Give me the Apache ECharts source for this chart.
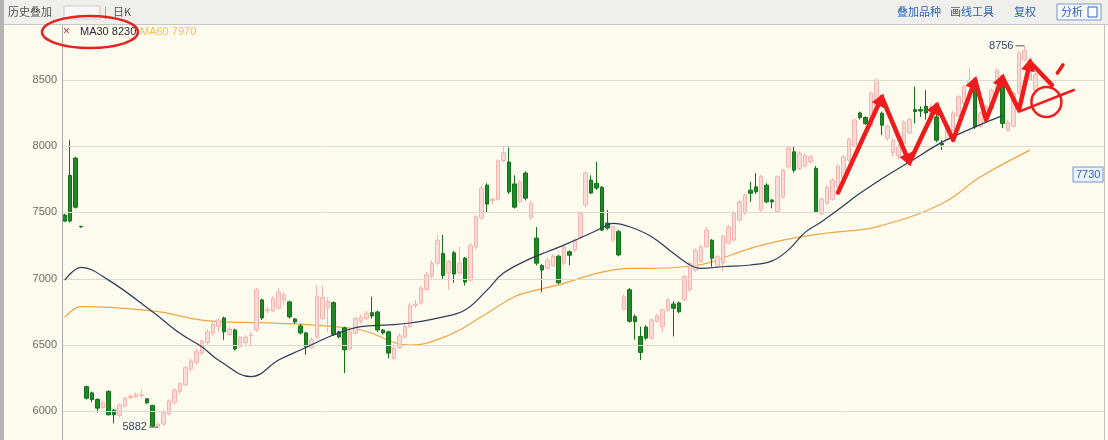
<!DOCTYPE html>
<html><head><meta charset="utf-8">
<script src="https://cdn.jsdelivr.net/npm/echarts/dist/echarts.min.js"></script>
<style>html,body{margin:0;padding:0;background:#fcfbee;}#c{width:1108px;height:440px;}</style>
</head><body><div id="c"></div>
<script>
// ---- data ----
const opens  = [7480,7780,7910,7395,6187,6140,6090,6030,6150,6010,5970,6040,6105,6110,6120,6095,6045,5885,5905,5980,
6070,6150,6200,6320,6370,6440,6520,6590,6640,6705,6580,6614,6490,6520,6570,6614,6841,6760,6760,6780,
6840,6826,6697,6645,6592,6480,6560,6700,6780,6820,6600,6630,6470,6590,6680,6700,6745,6750,6614,6600,
6400,6480,6560,6640,6800,6818,6920,7020,7118,7190,7045,7196,7044,7156,6990,7240,7460,7706,7590,7600,
7890,7880,7715,7580,7797,7460,7307,7100,7080,7100,7170,7118,7204,7217,7317,7556,7744,7720,7690,7420,
7292,7355,6770,6917,6715,6565,6636,6553,6680,6640,6765,6810,6818,6841,6917,7066,7130,7242,7290,7091,
7120,7270,7292,7443,7495,7668,7693,7520,7706,7594,7505,7618,7844,7957,7830,7850,7880,7832,7490,7570,
7600,7693,7760,7894,8000,8250,8216,8150,8300,8248,8060,7950,7930,8020,8100,8275,8275,8300,8200,8220,
8020,8050,8120,8230,8321,8450,8447,8150,8200,8280,8400,8447,8120,8150,8400,8650,8500,8420];
const closes = [7435,7435,7540,7392,6100,6090,6025,6065,5975,5975,6050,6100,6115,6130,6125,6065,5890,5905,5990,6080,
6160,6210,6330,6380,6450,6530,6600,6660,6690,6600,6620,6471,6560,6560,6575,6917,6705,6770,6850,6900,
6880,6713,6675,6592,6487,6540,6870,6860,6830,6580,6562,6465,6600,6700,6710,6740,6720,6615,6592,6440,
6480,6570,6640,6800,6810,6930,7030,7118,7291,7025,7130,7036,7118,6976,7250,7467,7683,7563,7600,7890,
7950,7655,7540,7730,7608,7570,7118,7066,7141,7171,6970,7242,7178,7292,7495,7797,7646,7685,7367,7382,
7392,7180,6865,6680,6677,6445,6553,6690,6720,6765,6841,6778,6752,7016,7118,7217,7240,7367,7155,7166,
7317,7392,7495,7580,7630,7645,7656,7770,7580,7580,7769,7819,7985,7819,7947,7930,7920,7505,7600,7690,
7744,7850,7920,8050,8196,8215,8171,8400,8497,8158,8150,8045,8000,8183,8200,8260,8265,8250,8300,8045,
8010,8150,8250,8372,8447,8497,8145,8248,8300,8420,8572,8171,8180,8400,8700,8720,8650,8540];
const lows   = [7430,7425,7530,7385,6090,6070,5990,6020,5970,5910,5950,6030,6090,6100,6100,6055,5885,5882,5890,5970,
6050,6130,6190,6300,6350,6420,6500,6570,6600,6540,6570,6460,6480,6500,6488,6600,6690,6740,6750,6770,
6800,6700,6660,6580,6426,6470,6550,6690,6600,6570,6550,6290,6460,6580,6660,6690,6700,6600,6580,6400,
6390,6470,6550,6630,6780,6810,6910,7000,7100,7000,6915,6970,7030,6950,6980,7220,7440,7495,7560,7590,
7880,7640,7530,7570,7590,7440,7100,6900,7070,7090,6960,7100,7103,7200,7300,7540,7640,7670,7360,7370,
7280,7170,6760,6670,6540,6388,6540,6540,6670,6600,6750,6565,6740,6830,6900,7050,7120,7230,7091,7080,
7060,7260,7280,7430,7480,7580,7640,7505,7570,7531,7495,7600,7830,7800,7820,7840,7870,7500,7480,7560,
7590,7680,7750,7880,7990,8200,8160,8140,8290,8083,8040,7920,7900,8010,8090,8171,8220,8200,8190,8030,
7970,8040,8110,8220,8310,8440,8130,8140,8190,8270,8390,8136,8110,8140,8390,8640,8490,8410];
const highs  = [7490,8045,7920,7400,6195,6150,6100,6080,6160,6020,6060,6110,6130,6140,6170,6100,6050,5915,6010,6090,
6175,6220,6345,6400,6470,6545,6620,6680,6700,6715,6640,6625,6570,6575,6600,6930,6850,6790,6870,6930,
6900,6835,6705,6660,6600,6560,6954,6950,6860,6830,6610,6640,6620,6713,6730,6760,6865,6760,6620,6610,
6500,6590,6660,6818,6840,6945,7050,7140,7330,7330,7140,7210,7242,7165,7270,7480,7700,7720,7610,7900,
8000,7990,7780,7745,7810,7590,7390,7110,7160,7185,7180,7255,7215,7305,7510,7810,7780,7882,7700,7518,
7400,7370,6880,6930,6730,6640,6650,6700,6735,6775,6855,6830,6830,7030,7130,7230,7255,7392,7300,7180,
7330,7405,7510,7595,7645,7731,7797,7785,7720,7600,7780,7830,8000,8000,7960,7945,7935,7850,7615,7705,
7760,7865,7935,8065,8210,8260,8225,8415,8510,8260,8165,8060,8015,8195,8215,8446,8300,8422,8315,8240,
8045,8165,8265,8385,8460,8593,8480,8260,8315,8435,8585,8470,8195,8415,8720,8756,8665,8555];
const ma30Points = [[0,6990],[3,7086],[8,6990],[16,6752],[21,6589],[25,6488],[28,6388],[34,6262],[39,6388],
[43,6463],[49,6576],[54,6639],[59,6652],[63,6667],[68,6704],[73,6765],[77,6915],[80,7043],[85,7154],[88,7204],
[91,7254],[96,7345],[99,7405],[100,7418],[103,7392],[107,7317],[111,7192],[114,7104],[116,7079],[120,7091],
[125,7104],[129,7135],[132,7220],[135,7350],[138,7430],[141,7520],[145,7644],[150,7781],[154,7880],[160,8030],
[166,8145],[171,8230]];
const ma60Points = [[0,6710],[3,6790],[8,6785],[17,6752],[23,6702],[28,6677],[36,6669],[45,6652],[54,6614],
[63,6500],[70,6575],[76,6714],[82,6865],[86,6915],[91,6966],[97,7041],[103,7079],[107,7079],[113,7091],
[117,7116],[125,7229],[131,7292],[139,7345],[148,7392],[160,7568],[167,7769],[176,7970]];
const gridValues = [6000,6500,7000,7500,8000,8500];
const highMark = [175, 8756];
const lowMark = [17, 5882];
const maText = ['MA30 8230', 'MA60 7970'];
const priceBoxText = '7730';
// hand-drawn annotation strokes, in [candle index, price]
const zigzag = [[141,7650],[149,8370],[154,7875],[159,8310],[162,8046],[166,8500],[168,8197],[171,8520],[174,8272],[176,8634],[180,8461]];
const headAt = [1,2,3,5,7,9];
const slotCount = 190;

// ---- build ----
const categories = [];
for (let i = 0; i < slotCount; i++) categories.push(String(i));
const candleData = opens.map((o, i) => [o, closes[i], lows[i], highs[i]]);

const chart = echarts.init(document.getElementById('c'), null, {renderer: 'canvas'});
const option = {
  animation: false,
  backgroundColor: '#fcfbee',
  grid: {left: 62, right: 4, top: 40, height: 398},
  xAxis: {type: 'category', data: categories, boundaryGap: true,
    axisLine: {show: false}, axisTick: {show: false}, axisLabel: {show: false}, splitLine: {show: false}},
  yAxis: {type: 'value', min: 5800, max: 8800, interval: 100,
    axisLine: {show: false}, axisTick: {show: false}, splitLine: {show: false},
    axisLabel: {color: '#6a6a6a', fontSize: 11, margin: 5, fontFamily: 'Liberation Sans',
      formatter: v => (v % 500 === 0 && v >= 6000 && v <= 8500) ? String(v) : ''}},
  series: [
    {type: 'line', data: [], silent: true, z: 1,
      markLine: {silent: true, symbol: 'none', label: {show: false}, animation: false,
        lineStyle: {color: '#dcdad0', width: 1, type: 'solid'},
        data: gridValues.map(v => ({yAxis: v}))}},
    {type: 'line', data: ma60Points, smooth: 0.4, showSymbol: false, silent: true, z: 3,
      lineStyle: {color: '#f2a545', width: 1.2}},
    {type: 'candlestick', data: candleData, barWidth: 4, z: 4, silent: true,
      itemStyle: {color: '#fcdad6', color0: '#1e8a26', borderColor: '#f5b3ad', borderColor0: '#127018', borderWidth: 1}},
    {type: 'line', data: ma30Points, smooth: 0.4, showSymbol: false, silent: true, z: 5,
      lineStyle: {color: '#2d3a5e', width: 1.2}}
  ]
};
chart.setOption(option);

const px = p => chart.convertToPixel({xAxisIndex: 0, yAxisIndex: 0}, p);
const RED = '#ee1c1c';
const g = [];
// window chrome
g.push({type: 'rect', shape: {x: 0, y: 0, width: 1108, height: 24}, style: {fill: '#efefec'}, z: 10});
g.push({type: 'line', shape: {x1: 0, y1: 24.5, x2: 1108, y2: 24.5}, style: {stroke: '#c6c6c6', lineWidth: 1}, z: 10});
g.push({type: 'rect', shape: {x: 0, y: 0, width: 4, height: 440}, style: {fill: '#b4b4b4'}, z: 10});
g.push({type: 'line', shape: {x1: 62.5, y1: 25, x2: 62.5, y2: 440}, style: {stroke: '#a8a8a8', lineWidth: 1}, z: 10});
g.push({type: 'line', shape: {x1: 1104.5, y1: 25, x2: 1104.5, y2: 440}, style: {stroke: '#c0c0c0', lineWidth: 1}, z: 10});
const tb = (x, t, c, fs) => ({type: 'text', x: x, y: 12, style: {text: t, fill: c, font: (fs || 11) + 'px "Noto Sans CJK SC"', textVerticalAlign: 'middle'}, z: 11});
g.push(tb(8, '历史叠加', '#555'));
g.push({type: 'rect', shape: {x: 64, y: 6, width: 36, height: 13}, style: {fill: '#f8f8f8', stroke: '#c8c8c8'}, z: 11});
g.push(tb(104, '|', '#888'));
g.push(tb(113, '日K', '#555'));
g.push(tb(897, '叠加品种', '#2a63b8'));
g.push(tb(950, '画线工具', '#2a63b8'));
g.push(tb(1014, '复权', '#2a63b8'));
g.push({type: 'rect', shape: {x: 1057, y: 4, width: 44, height: 16}, style: {fill: '#f6f8fc', stroke: '#7a9ccc'}, z: 11});
g.push(tb(1061, '分析', '#2a63b8'));
g.push({type: 'rect', shape: {x: 1088, y: 7, width: 9, height: 10}, style: {fill: '#fff', stroke: '#2a63b8'}, z: 12});
// MA legend text
g.push({type: 'text', x: 63, y: 32, style: {text: '×', fill: '#b04040', font: '12px "Liberation Sans"', textVerticalAlign: 'middle'}, z: 11});
g.push({type: 'text', x: 80, y: 32, style: {text: maText[0], fill: '#2a2a3a', font: '11px "Liberation Sans"', textVerticalAlign: 'middle'}, z: 11});
g.push({type: 'text', x: 140, y: 32, style: {text: maText[1], fill: '#f2c24a', font: '11px "Liberation Sans"', textVerticalAlign: 'middle'}, z: 11});
g.push({type: 'ellipse', shape: {cx: 90, cy: 32, rx: 48, ry: 16}, style: {fill: 'none', stroke: '#e2231f', lineWidth: 2.5}, z: 12});
// current price box
g.push({type: 'rect', shape: {x: 1073, y: 167, width: 30, height: 15}, style: {fill: '#eef3fb', stroke: '#6f94d0'}, z: 11});
g.push({type: 'text', x: 1076, y: 175, style: {text: priceBoxText, fill: '#2a63b8', font: '11px "Liberation Sans"', textVerticalAlign: 'middle'}, z: 12});
// high / low labels
const hp = px(highMark), lp = px(lowMark);
g.push({type: 'line', shape: {x1: hp[0] - 9, y1: hp[1], x2: hp[0], y2: hp[1]}, style: {stroke: '#555', lineWidth: 1}, z: 11});
g.push({type: 'text', x: hp[0] - 11, y: hp[1], style: {text: String(highMark[1]), fill: '#34465e', font: '11px "Liberation Sans"', textAlign: 'right', textVerticalAlign: 'middle'}, z: 11});
g.push({type: 'line', shape: {x1: lp[0] - 9, y1: lp[1], x2: lp[0], y2: lp[1]}, style: {stroke: '#555', lineWidth: 1}, z: 11});
g.push({type: 'text', x: lp[0] - 11, y: lp[1], style: {text: String(lowMark[1]), fill: '#34465e', font: '11px "Liberation Sans"', textAlign: 'right', textVerticalAlign: 'middle'}, z: 11});
// red hand-drawn annotations
const zp = zigzag.map(px);
g.push({type: 'polyline', shape: {points: zp}, style: {stroke: RED, lineWidth: 4.5, fill: 'none', lineCap: 'round', lineJoin: 'round'}, z: 13});
headAt.forEach(k => {
  const a = zp[k - 1], b = zp[k];
  let dx = b[0] - a[0], dy = b[1] - a[1];
  const L = Math.hypot(dx, dy); dx /= L; dy /= L;
  const nx = -dy, ny = dx;
  const tip = [b[0] + dx * 4, b[1] + dy * 4];
  const base = [b[0] - dx * 9, b[1] - dy * 9];
  g.push({type: 'polygon', shape: {points: [tip, [base[0] + nx * 7, base[1] + ny * 7], [base[0] - nx * 7, base[1] - ny * 7]]}, style: {fill: RED}, z: 13});
});
const t1 = px([182, 8612]), t2 = px([181, 8551]);
g.push({type: 'line', shape: {x1: t1[0], y1: t1[1], x2: t2[0], y2: t2[1]}, style: {stroke: RED, lineWidth: 3.5, lineCap: 'round'}, z: 13});
const cc = px([179, 8333]);
g.push({type: 'circle', shape: {cx: cc[0], cy: cc[1], r: 15}, style: {fill: 'none', stroke: RED, lineWidth: 2.5}, z: 13});
const l1 = px([174, 8260]), l2 = px([184, 8423]);
g.push({type: 'line', shape: {x1: l1[0], y1: l1[1], x2: l2[0], y2: l2[1]}, style: {stroke: RED, lineWidth: 2.5, lineCap: 'round'}, z: 13});
chart.setOption({graphic: g});
</script></body></html>
